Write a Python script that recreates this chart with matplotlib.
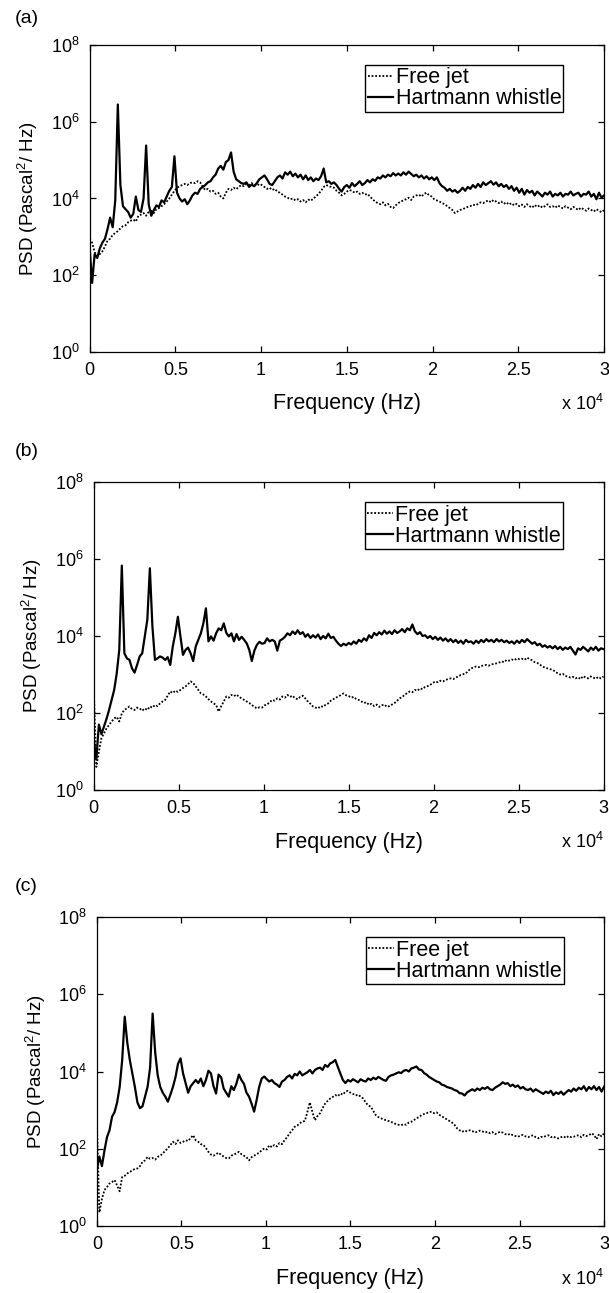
import numpy as np
import matplotlib
matplotlib.use("Agg")
import matplotlib.pyplot as plt
from matplotlib.ticker import NullLocator

plt.rcParams['font.family'] = 'Liberation Sans'
plt.rcParams['mathtext.fontset'] = 'custom'
plt.rcParams['mathtext.rm'] = 'Liberation Sans'
plt.rcParams['mathtext.it'] = 'Liberation Sans:italic'

# Spectrum bins (Hz), 150 Hz resolution
freq_hz = np.arange(0, 30001, 150)

# log10 PSD (Pascal^2/Hz) per bin, one row per 3 kHz
fj_a = [2.95, 2.85, 2.60, 2.50, 2.55, 2.62, 2.75, 2.90, 2.95, 3.05, 3.10, 3.15, 3.22, 3.28, 3.30, 3.38, 3.42, 3.45, 3.40, 3.55,
        3.58, 3.62, 3.55, 3.65, 3.68, 3.62, 3.72, 3.75, 3.80, 3.85, 3.92, 4.00, 4.10, 4.20, 4.28, 4.32, 4.35, 4.38, 4.35, 4.40,
        4.42, 4.40, 4.45, 4.42, 4.30, 4.22, 4.25, 4.18, 4.20, 4.12, 4.15, 4.05, 4.00, 4.15, 4.25, 4.22, 4.28, 4.24, 4.30, 4.35,
        4.32, 4.38, 4.35, 4.40, 4.36, 4.33, 4.38, 4.35, 4.30, 4.25, 4.28, 4.22, 4.25, 4.18, 4.15, 4.10, 4.05, 4.02, 3.98, 4.00,
        3.95, 3.98, 3.92, 3.96, 3.90, 3.97, 3.94, 4.00, 4.05, 4.12, 4.20, 4.30, 4.35, 4.32, 4.30, 4.28, 4.20, 4.15, 4.08, 4.12,
        4.18, 4.22, 4.20, 4.15, 4.18, 4.12, 4.15, 4.10, 4.12, 4.05, 3.98, 3.92, 3.88, 3.85, 3.90, 3.82, 3.86, 3.78, 3.75, 3.82,
        3.88, 3.92, 3.95, 3.98, 4.02, 3.96, 4.05, 4.08, 4.10, 4.05, 4.12, 4.15, 4.08, 4.05, 3.98, 3.95, 3.92, 3.88, 3.85, 3.80,
        3.75, 3.70, 3.62, 3.66, 3.70, 3.72, 3.75, 3.78, 3.80, 3.84, 3.82, 3.86, 3.90, 3.88, 3.92, 3.95, 3.90, 3.96, 3.92, 3.88,
        3.92, 3.86, 3.90, 3.84, 3.88, 3.82, 3.86, 3.80, 3.84, 3.78, 3.85, 3.80, 3.76, 3.83, 3.78, 3.82, 3.76, 3.80, 3.85, 3.78,
        3.80, 3.76, 3.82, 3.78, 3.74, 3.80, 3.76, 3.72, 3.78, 3.74, 3.70, 3.76, 3.72, 3.68, 3.74, 3.70, 3.66, 3.72, 3.68, 3.64,
        3.70]
hw_a = [2.75, 1.80, 2.55, 2.45, 2.70, 2.85, 2.95, 3.20, 3.50, 3.25, 3.95, 6.45, 4.35, 3.80, 3.72, 3.65, 3.50, 3.60, 4.05, 3.70,
        3.65, 4.00, 5.38, 3.85, 3.55, 3.70, 3.82, 3.78, 3.95, 3.90, 4.05, 4.20, 4.30, 5.10, 4.15, 4.00, 3.92, 3.98, 3.85, 3.95,
        4.08, 4.15, 4.12, 4.25, 4.30, 4.35, 4.42, 4.45, 4.55, 4.62, 4.78, 4.85, 4.75, 4.95, 5.00, 5.20, 4.70, 4.50, 4.45, 4.40,
        4.38, 4.42, 4.30, 4.36, 4.32, 4.40, 4.50, 4.55, 4.60, 4.50, 4.38, 4.35, 4.45, 4.55, 4.60, 4.52, 4.68, 4.62, 4.70, 4.58,
        4.65, 4.55, 4.62, 4.50, 4.60, 4.48, 4.55, 4.45, 4.52, 4.48, 4.58, 4.78, 4.42, 4.45, 4.38, 4.42, 4.35, 4.25, 4.18, 4.30,
        4.35, 4.28, 4.40, 4.32, 4.38, 4.45, 4.35, 4.40, 4.48, 4.42, 4.50, 4.46, 4.55, 4.52, 4.60, 4.55, 4.62, 4.58, 4.66, 4.60,
        4.65, 4.60, 4.68, 4.62, 4.70, 4.64, 4.58, 4.62, 4.55, 4.60, 4.52, 4.58, 4.50, 4.55, 4.48, 4.55, 4.40, 4.32, 4.28, 4.20,
        4.25, 4.18, 4.22, 4.15, 4.20, 4.28, 4.20, 4.30, 4.25, 4.35, 4.28, 4.38, 4.30, 4.42, 4.35, 4.40, 4.45, 4.36, 4.42, 4.32,
        4.38, 4.30, 4.35, 4.25, 4.32, 4.20, 4.28, 4.15, 4.25, 4.10, 4.22, 4.15, 4.20, 4.08, 4.18, 4.12, 4.05, 4.15, 4.10, 4.18,
        4.05, 4.12, 4.08, 4.15, 4.05, 4.12, 4.10, 4.18, 4.08, 4.12, 4.15, 4.05, 4.12, 4.10, 4.18, 4.05, 4.12, 3.98, 4.15, 4.02,
        4.08]

fj_b = [2.60, 0.60, 1.00, 1.35, 1.47, 1.60, 1.69, 1.78, 1.86, 1.90, 1.78, 1.99, 2.08, 2.12, 2.17, 2.10, 2.08, 2.14, 2.12, 2.06,
        2.12, 2.08, 2.17, 2.14, 2.21, 2.18, 2.25, 2.30, 2.34, 2.45, 2.56, 2.52, 2.58, 2.55, 2.60, 2.65, 2.69, 2.75, 2.82, 2.78,
        2.69, 2.60, 2.51, 2.48, 2.43, 2.36, 2.30, 2.25, 2.21, 2.04, 2.18, 2.30, 2.43, 2.40, 2.47, 2.44, 2.48, 2.42, 2.38, 2.34,
        2.30, 2.26, 2.21, 2.16, 2.12, 2.15, 2.14, 2.20, 2.22, 2.28, 2.34, 2.32, 2.38, 2.35, 2.43, 2.40, 2.47, 2.42, 2.45, 2.38,
        2.36, 2.42, 2.45, 2.38, 2.30, 2.24, 2.17, 2.14, 2.12, 2.18, 2.16, 2.22, 2.25, 2.32, 2.36, 2.40, 2.43, 2.47, 2.51, 2.46,
        2.44, 2.40, 2.42, 2.36, 2.34, 2.30, 2.26, 2.28, 2.21, 2.24, 2.18, 2.22, 2.16, 2.20, 2.22, 2.16, 2.18, 2.22, 2.26, 2.32,
        2.38, 2.42, 2.47, 2.52, 2.56, 2.54, 2.60, 2.58, 2.64, 2.62, 2.68, 2.70, 2.73, 2.78, 2.82, 2.80, 2.84, 2.82, 2.86, 2.88,
        2.90, 2.88, 2.92, 2.95, 2.99, 3.01, 3.03, 3.10, 3.16, 3.18, 3.21, 3.19, 3.22, 3.24, 3.25, 3.23, 3.26, 3.28, 3.29, 3.31,
        3.34, 3.32, 3.38, 3.36, 3.39, 3.37, 3.42, 3.40, 3.41, 3.38, 3.44, 3.40, 3.37, 3.32, 3.30, 3.26, 3.21, 3.18, 3.16, 3.14,
        3.12, 3.08, 3.03, 3.00, 3.02, 2.96, 2.95, 2.92, 2.94, 2.90, 2.93, 2.88, 2.96, 2.92, 2.90, 2.95, 2.92, 2.89, 2.94, 2.90,
        2.95]
hw_b = [1.30, 0.80, 1.70, 1.45, 1.65, 1.85, 2.08, 2.34, 2.60, 3.03, 3.64, 5.83, 3.55, 3.42, 3.38, 3.16, 3.05, 3.25, 3.47, 3.55,
        3.99, 4.42, 5.76, 4.25, 3.38, 3.42, 3.47, 3.44, 3.38, 3.45, 3.25, 3.73, 4.07, 4.50, 3.99, 3.51, 3.64, 3.70, 3.55, 3.35,
        3.73, 3.90, 4.07, 4.33, 4.72, 3.86, 3.99, 3.88, 4.07, 4.20, 4.15, 4.33, 4.08, 3.99, 4.07, 3.86, 4.05, 3.90, 3.98, 3.90,
        3.81, 3.64, 3.35, 3.62, 3.77, 3.85, 3.80, 3.82, 3.94, 3.86, 3.90, 3.86, 3.62, 3.88, 3.92, 3.98, 4.07, 4.02, 4.12, 4.05,
        4.15, 4.05, 4.10, 3.98, 4.05, 3.95, 4.02, 3.96, 4.04, 3.92, 4.00, 3.94, 4.06, 3.95, 3.98, 3.88, 3.80, 3.74, 3.80, 3.76,
        3.82, 3.78, 3.86, 3.80, 3.90, 3.85, 3.94, 3.88, 4.02, 3.95, 4.08, 4.02, 4.10, 4.04, 4.14, 4.06, 4.12, 4.05, 4.15, 4.08,
        4.12, 4.18, 4.10, 4.20, 4.15, 4.30, 4.12, 4.05, 4.10, 4.00, 4.02, 3.95, 4.00, 3.92, 3.98, 3.90, 3.96, 3.88, 3.94, 3.86,
        3.92, 3.84, 3.90, 3.82, 3.88, 3.80, 3.90, 3.84, 3.86, 3.80, 3.88, 3.82, 3.90, 3.84, 3.92, 3.86, 3.90, 3.84, 3.92, 3.86,
        3.90, 3.84, 3.88, 3.82, 3.86, 3.80, 3.88, 3.82, 3.90, 3.84, 3.92, 3.86, 3.80, 3.84, 3.76, 3.80, 3.72, 3.76, 3.70, 3.74,
        3.68, 3.74, 3.66, 3.72, 3.64, 3.70, 3.66, 3.72, 3.62, 3.52, 3.68, 3.64, 3.72, 3.66, 3.60, 3.70, 3.64, 3.72, 3.62, 3.68,
        3.66]

fj_c = [2.74, 0.35, 0.70, 0.93, 1.01, 1.10, 1.14, 1.19, 1.05, 0.90, 1.27, 1.30, 1.36, 1.40, 1.44, 1.48, 1.49, 1.55, 1.66, 1.70,
        1.79, 1.74, 1.76, 1.72, 1.79, 1.82, 1.88, 1.95, 2.01, 2.10, 2.18, 2.12, 2.22, 2.15, 2.18, 2.22, 2.20, 2.28, 2.35, 2.22,
        2.18, 2.12, 2.10, 2.02, 1.92, 1.85, 1.82, 1.86, 1.90, 1.84, 1.80, 1.76, 1.75, 1.82, 1.85, 1.88, 1.92, 1.86, 1.82, 1.78,
        1.70, 1.78, 1.82, 1.86, 1.90, 1.96, 2.01, 1.98, 2.09, 2.04, 2.10, 2.06, 2.15, 2.12, 2.22, 2.30, 2.40, 2.48, 2.57, 2.60,
        2.66, 2.70, 2.72, 2.95, 3.20, 2.95, 2.74, 2.85, 2.92, 3.05, 3.17, 3.24, 3.30, 3.34, 3.39, 3.36, 3.43, 3.40, 3.48, 3.50,
        3.45, 3.42, 3.38, 3.40, 3.35, 3.30, 3.20, 3.12, 3.09, 2.98, 2.87, 2.82, 2.79, 2.76, 2.74, 2.72, 2.70, 2.66, 2.64, 2.62,
        2.61, 2.64, 2.62, 2.68, 2.70, 2.74, 2.79, 2.82, 2.87, 2.90, 2.92, 2.95, 2.96, 2.92, 2.94, 2.88, 2.84, 2.80, 2.76, 2.72,
        2.68, 2.62, 2.53, 2.48, 2.44, 2.47, 2.45, 2.48, 2.46, 2.42, 2.44, 2.47, 2.45, 2.42, 2.44, 2.40, 2.43, 2.38, 2.41, 2.44,
        2.42, 2.38, 2.36, 2.39, 2.35, 2.33, 2.31, 2.34, 2.36, 2.32, 2.30, 2.33, 2.35, 2.30, 2.27, 2.31, 2.30, 2.33, 2.35, 2.30,
        2.32, 2.28, 2.27, 2.30, 2.32, 2.28, 2.33, 2.30, 2.31, 2.34, 2.35, 2.30, 2.36, 2.33, 2.35, 2.40, 2.36, 2.25, 2.38, 2.32,
        2.40]
hw_c = [1.45, 1.80, 1.55, 1.95, 2.30, 2.48, 2.83, 2.95, 3.20, 3.60, 4.30, 5.42, 4.75, 4.30, 3.95, 3.60, 3.20, 3.05, 3.10, 3.35,
        3.60, 4.10, 5.50, 4.50, 3.90, 3.60, 3.45, 3.35, 3.22, 3.40, 3.60, 3.85, 4.20, 4.34, 3.95, 3.70, 3.45, 3.62, 3.70, 3.78,
        3.70, 3.82, 3.62, 3.78, 4.02, 3.95, 3.62, 3.43, 3.92, 3.85, 3.56, 3.45, 3.35, 3.62, 3.52, 3.68, 3.92, 3.78, 3.68, 3.45,
        3.35, 3.17, 2.96, 3.26, 3.60, 3.82, 3.87, 3.80, 3.74, 3.78, 3.70, 3.66, 3.60, 3.74, 3.78, 3.86, 3.90, 3.82, 3.94, 3.90,
        4.00, 3.90, 3.94, 3.98, 4.04, 3.95, 4.04, 4.08, 4.10, 4.04, 4.17, 4.12, 4.21, 4.24, 4.30, 4.12, 3.95, 3.78, 3.70, 3.78,
        3.74, 3.80, 3.76, 3.72, 3.80, 3.76, 3.74, 3.82, 3.78, 3.84, 3.80, 3.86, 3.82, 3.78, 3.76, 3.86, 3.90, 3.92, 3.95, 3.98,
        3.96, 4.02, 4.04, 4.00, 4.08, 4.10, 4.13, 4.05, 4.04, 3.96, 3.92, 3.86, 3.82, 3.78, 3.74, 3.72, 3.66, 3.64, 3.60, 3.58,
        3.56, 3.52, 3.50, 3.44, 3.43, 3.38, 3.46, 3.50, 3.54, 3.50, 3.56, 3.52, 3.58, 3.55, 3.60, 3.54, 3.52, 3.58, 3.62, 3.66,
        3.72, 3.68, 3.70, 3.62, 3.66, 3.60, 3.64, 3.56, 3.60, 3.54, 3.52, 3.56, 3.48, 3.54, 3.50, 3.46, 3.42, 3.48, 3.44, 3.50,
        3.39, 3.46, 3.42, 3.48, 3.40, 3.46, 3.52, 3.48, 3.56, 3.50, 3.58, 3.54, 3.62, 3.50, 3.60, 3.54, 3.62, 3.52, 3.60, 3.48,
        3.61]

panel_tags = ['(a)', '(b)', '(c)']
free_jet = [fj_a, fj_b, fj_c]
hartmann = [hw_a, hw_b, hw_c]

xtick_values = [0, 5000, 10000, 15000, 20000, 25000, 30000]
xtick_labels = ['0', '0.5', '1', '1.5', '2', '2.5', '3']
ytick_exponents = [0, 2, 4, 6, 8]

# axes rectangles [left, bottom, width, height] in figure fractions
rects = [[0.147, 0.7278, 0.845, 0.2374],
         [0.154, 0.3890, 0.837, 0.2382],
         [0.159, 0.0518, 0.833, 0.2390]]
tag_y = [0.986, 0.651, 0.314]

fig = plt.figure(figsize=(6.09, 12.93), dpi=100)

for i in range(3):
    ax = fig.add_axes(rects[i])
    ax.semilogy(freq_hz, 10 ** np.array(free_jet[i]), color='k', lw=1.3,
                ls=(0, (1, 1)), label='Free jet')
    ax.semilogy(freq_hz, 10 ** np.array(hartmann[i]), color='k', lw=1.6,
                label='Hartmann whistle')

    ax.set_xlim(0, 30000)
    ax.set_ylim(1, 1e8)
    ax.set_xticks(xtick_values, xtick_labels)
    ax.set_yticks([10.0 ** e for e in ytick_exponents],
                  ['$10^{%d}$' % e for e in ytick_exponents])
    ax.yaxis.set_minor_locator(NullLocator())
    ax.tick_params(direction='in', top=True, right=True, length=4.5,
                   width=0.9, labelsize=13, pad=7)
    for sp in ax.spines.values():
        sp.set_linewidth(0.9)

    ax.set_xlabel('Frequency (Hz)', fontsize=15.5)
    ax.xaxis.set_label_coords(0.5, -0.135)
    ax.set_ylabel('PSD (Pascal$^2$/ Hz)', fontsize=13.5)
    ax.yaxis.set_label_coords(-0.097, 0.5)
    ax.text(1.0, -0.17, r'x 10$^4$', transform=ax.transAxes, ha='right',
            va='center', fontsize=13)

    ax.legend(loc='upper right', bbox_to_anchor=(0.921, 0.934), fontsize=15.5,
              frameon=True, fancybox=False, framealpha=1, edgecolor='k',
              handlelength=1.2, handletextpad=0.1, borderpad=0.1,
              labelspacing=0.0, borderaxespad=0)

    fig.text(0.025, tag_y[i], panel_tags[i], fontsize=14, ha='left', va='center')

fig.savefig('out.png', dpi=100)
